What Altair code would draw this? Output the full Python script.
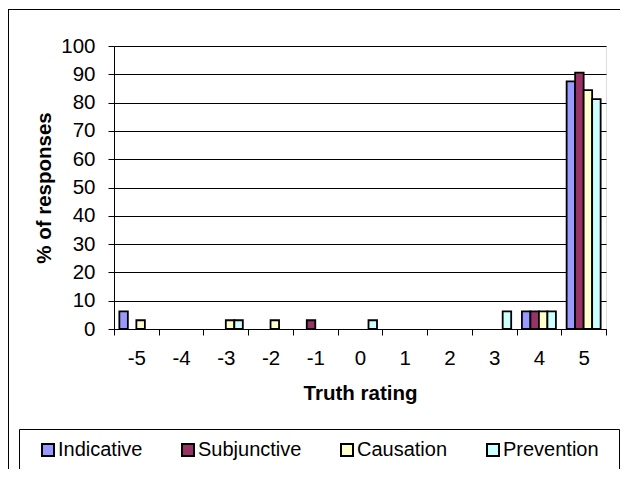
import altair as alt
import pandas as pd

ratings = [-5, -4, -3, -2, -1, 0, 1, 2, 3, 4, 5]
series = ["Indicative", "Subjunctive", "Causation", "Prevention"]
indicative = [6.25, 0, 0, 0, 0, 0, 0, 0, 0, 6.25, 87.5]
subjunctive = [0, 0, 0, 0, 3.1, 0, 0, 0, 0, 6.25, 90.6]
causation = [3.1, 0, 3.1, 3.1, 0, 0, 0, 0, 0, 6.25, 84.4]
prevention = [0, 0, 3.1, 0, 0, 3.1, 0, 0, 6.25, 6.25, 81.25]
colors = ["#9999FF", "#993366", "#FFFFCC", "#CCFFFF"]
y_ticks = list(range(0, 101, 10))

rows = []
for name, vals in zip(series, [indicative, subjunctive, causation, prevention]):
    for r, v in zip(ratings, vals):
        rows.append({"rating": r, "series": name, "value": v})
df = pd.DataFrame(rows)

FONT = "Liberation Sans"
FS = 20.5

bars = alt.Chart(df).transform_filter("datum.value > 0").mark_bar(
    stroke="black", strokeWidth=1.8
).encode(
    x=alt.X("rating:O", sort=ratings,
            scale=alt.Scale(domain=ratings, paddingInner=0, paddingOuter=0),
            axis=alt.Axis(title="Truth rating", labelAngle=0, tickBand="extent",
                          domainColor="black", tickColor="black", tickSize=6,
                          labelPadding=13, titlePadding=15, labelFontSize=FS,
                          titleFontSize=FS, titleFontWeight="bold",
                          labelColor="black", titleColor="black", grid=False)),
    xOffset=alt.XOffset("series:N", sort=series,
                        scale=alt.Scale(domain=series, paddingInner=0, paddingOuter=0.63)),
    y=alt.Y("value:Q", scale=alt.Scale(domain=[0, 100], nice=False),
            axis=alt.Axis(title="% of responses", values=y_ticks, grid=True,
                          gridColor="black", gridOpacity=1, gridWidth=1,
                          domainColor="black", tickColor="black", tickSize=6,
                          labelPadding=13, titlePadding=6, labelFontSize=FS,
                          titleFontSize=FS, titleFontWeight="bold",
                          labelColor="black", titleColor="black")),
    color=alt.Color("series:N", sort=series,
                    scale=alt.Scale(domain=series, range=colors),
                    legend=alt.Legend(title=None, orient="none", direction="horizontal",
                                      legendX=-76, legendY=394,
                                      symbolType="square", symbolSize=144,
                                      symbolStrokeColor="black", symbolStrokeWidth=2,
                                      symbolOpacity=1,
                                      labelFontSize=20, labelColor="black",
                                      labelFont=FONT, columnPadding=35,
                                      labelOffset=0, padding=0)),
)

legend_box = alt.Chart(pd.DataFrame({"a": [0]})).mark_rect(
    fill="white", stroke="black", strokeWidth=1
).encode(
    x=alt.value(-94.5), x2=alt.value(505.5), y=alt.value(383.5), y2=alt.value(424.5)
)

frame_top = alt.Chart(pd.DataFrame({"a": [0]})).mark_rule(color="black", strokeWidth=1).encode(
    x=alt.value(-106), x2=alt.value(600), y=alt.value(-36.5)
)
frame_left = alt.Chart(pd.DataFrame({"a": [0]})).mark_rule(color="black", strokeWidth=1).encode(
    x=alt.value(-105.5), y=alt.value(-36.5), y2=alt.value(500)
)

chart = alt.layer(legend_box, bars, frame_top, frame_left).properties(
    width=492, height=283,
    autosize=alt.AutoSizeParams(type="none"),
    padding={"left": 106, "top": 38, "right": 14, "bottom": 140},
    background="white",
).configure_view(
    fill="#C0C0C0", stroke="#808080", strokeWidth=2
).configure(font=FONT)

chart.save("out.html", embed_options={"renderer": "svg", "actions": False})
